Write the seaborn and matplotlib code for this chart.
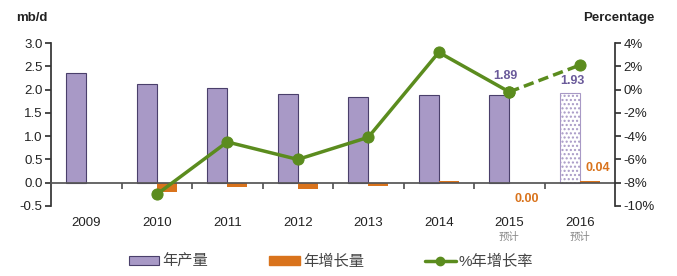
import matplotlib
matplotlib.use("Agg")
import matplotlib.pyplot as plt
import seaborn as sns
import pandas as pd
import numpy as np
from matplotlib.patches import Patch
from matplotlib.lines import Line2D
from matplotlib.transforms import blended_transform_factory

years = ["2009", "2010", "2011", "2012", "2013", "2014", "2015", "2016"]
sub_labels = ["", "", "", "", "", "", "预计", "预计"]
production = [2.35, 2.12, 2.03, 1.90, 1.84, 1.88, 1.89, 1.93]
change = [np.nan, -0.21, -0.09, -0.13, -0.06, 0.04, 0.00, 0.04]
growth = [np.nan, -9.0, -4.5, -6.0, -4.1, 3.2, -0.2, 2.1]
series_names = ["年产量", "年增长量", "%年增长率"]

PURPLE = "#a899c6"
PURPLE_EDGE = "#4a3f6b"
PURPLE_TEXT = "#6a5a9a"
ORANGE = "#d9731c"
GREEN = "#5b8c1e"

sns.set_theme(style="white")
plt.rcParams["font.family"] = ["Liberation Sans", "Noto Sans CJK SC", "DejaVu Sans"]
plt.rcParams["hatch.linewidth"] = 1.0

fig = plt.figure(figsize=(6.77, 2.76), dpi=100)
ax = fig.add_axes([51 / 677, 1 - 206 / 276, (615 - 51) / 677, (206 - 43) / 276])

df = pd.DataFrame({
    "year": years * 2,
    "value": production + change,
    "series": [series_names[0]] * 8 + [series_names[1]] * 8,
})
sns.barplot(data=df, x="year", y="value", hue="series", order=years,
            hue_order=series_names[:2], palette=[PURPLE, ORANGE],
            width=0.57, dodge=True, ax=ax, legend=False, saturation=1)

bars = [p for p in ax.patches]
prod_bars = bars[:8]
chg_bars = bars[8:16]
for b in prod_bars:
    b.set_edgecolor(PURPLE_EDGE)
    b.set_linewidth(0.8)
for b in chg_bars:
    b.set_edgecolor(ORANGE)
    b.set_linewidth(0)
last = prod_bars[-1]
last.set_facecolor("white")
last.set_edgecolor(PURPLE)
last.set_hatch("....")
last.set_linewidth(0.8)

ax.set_ylim(-0.5, 3.0)
ax.set_xlim(-0.5, 7.5)
ax.set_yticks([-0.5, 0, 0.5, 1.0, 1.5, 2.0, 2.5, 3.0])
ax.set_yticklabels([f"{v:.1f}" for v in [-0.5, 0, 0.5, 1.0, 1.5, 2.0, 2.5, 3.0]])
ax.set_xlabel("")
ax.set_ylabel("")
for s in ["top", "right"]:
    ax.spines[s].set_visible(False)
ax.spines["left"].set_color("#333333")
ax.spines["bottom"].set_position(("data", 0))
ax.spines["bottom"].set_color("#555555")
ax.set_xticks([0.5 + i for i in range(7)])
ax.set_xticklabels([])
ax.tick_params(axis="x", direction="out", length=4, color="#555555", bottom=True)
ax.tick_params(axis="y", direction="out", length=4, color="#333333", left=True,
               labelsize=9.5, labelcolor="#222222", pad=2)

trans = blended_transform_factory(ax.transData, ax.transAxes)
for i, (y, s) in enumerate(zip(years, sub_labels)):
    ax.text(i, -0.105, y, transform=trans, ha="center", va="center",
            fontsize=9.5, color="#222222")
    if s:
        ax.text(i, -0.19, s, transform=trans, ha="center", va="center",
                fontsize=7.5, color="#888888")

# value labels
ax.text(6 - 0.06, 2.29, f"{production[6]:.2f}", ha="center", va="center",
        fontsize=9, fontweight="bold", color=PURPLE_TEXT)
ax.text(7 - 0.11, 2.18, f"{production[7]:.2f}", ha="center", va="center",
        fontsize=9, fontweight="bold", color=PURPLE_TEXT)
ax.text(6 + 0.25, -0.34, f"{change[6]:.2f}", ha="center", va="center",
        fontsize=9, fontweight="bold", color=ORANGE)
ax.text(7 + 0.26, 0.32, f"{change[7]:.2f}", ha="center", va="center",
        fontsize=9, fontweight="bold", color=ORANGE)

ax2 = ax.twinx()
x_idx = np.arange(len(years))
ldf = pd.DataFrame({"x": x_idx, "g": growth})
solid = ldf.iloc[1:7]
dashed = ldf.iloc[6:8]
sns.lineplot(data=solid, x="x", y="g", ax=ax2, color=GREEN, linewidth=2.5,
             marker="o", markersize=8, markeredgecolor=GREEN)
sns.lineplot(data=dashed, x="x", y="g", ax=ax2, color=GREEN, linewidth=2.5,
             linestyle=(0, (3, 1.5)), marker="o", markersize=8, markeredgecolor=GREEN)
ax2.set_ylim(-10, 4)
ax2.set_xlim(-0.5, 7.5)
ax2.set_yticks(range(-10, 5, 2))
ax2.set_yticklabels([f"{v}%" for v in range(-10, 5, 2)])
ax2.set_xlabel("")
ax2.set_ylabel("")
for s in ["top", "left", "bottom"]:
    ax2.spines[s].set_visible(False)
ax2.spines["right"].set_color("#333333")
ax2.tick_params(axis="y", direction="out", length=4, color="#333333", right=True,
                labelsize=9.5, labelcolor="#222222", pad=2)
ax2.grid(False)
ax.grid(False)

fig.text(16 / 677, 1 - 18 / 276, "mb/d", fontsize=9.5, fontweight="bold",
         color="#222222", va="center", ha="left")
fig.text(655 / 677, 1 - 18 / 276, "Percentage", fontsize=9.5, fontweight="bold",
         color="#222222", va="center", ha="right")

handles = [
    Patch(facecolor=PURPLE, edgecolor=PURPLE_EDGE, linewidth=0.8),
    Patch(facecolor=ORANGE, edgecolor=ORANGE),
    Line2D([0], [0], color=GREEN, linewidth=2.5, marker="o", markersize=6),
]
leg = fig.legend(handles, series_names, loc="center", bbox_to_anchor=(331 / 677, 1 - 262 / 276),
                 ncol=3, frameon=False, fontsize=11, handlelength=2.0,
                 handleheight=0.5, columnspacing=4.0, handletextpad=0.2)
for t in leg.get_texts():
    t.set_color("#444444")

fig.savefig("out.png", dpi=100)
